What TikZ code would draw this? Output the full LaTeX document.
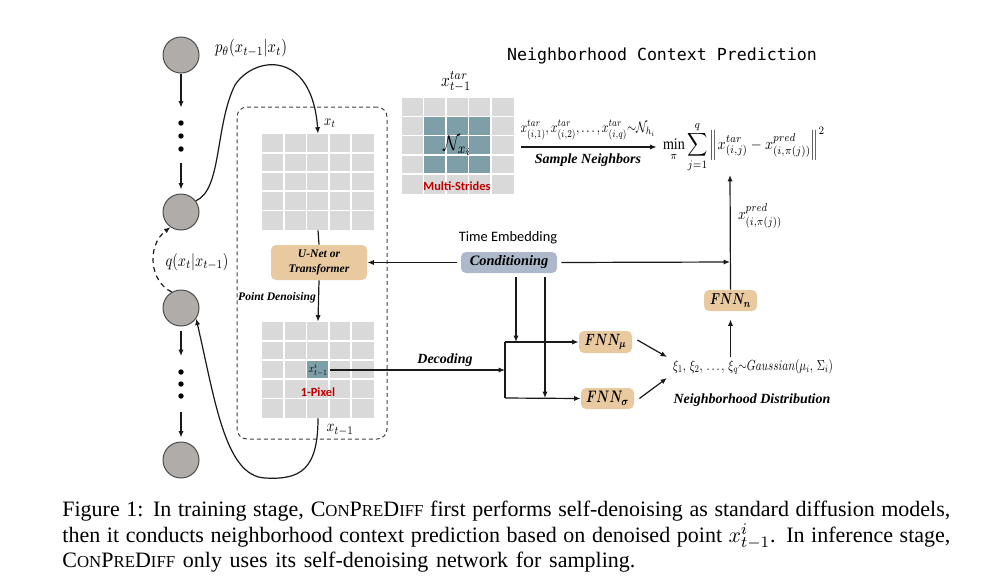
\documentclass[tikz,border=0pt]{standalone}
\usepackage{amsmath,amssymb,bm}
\usepackage{fontspec}
\setmainfont{Liberation Serif}
\newfontfamily\carl{Carlito}
\newfontfamily\monof{DejaVu Sans Mono}
\usetikzlibrary{arrows.meta,calc}
\definecolor{cellgray}{HTML}{D9D9D9}
\definecolor{pixteal}{HTML}{7E9FA8}
\definecolor{tanbox}{HTML}{E9C9A0}
\definecolor{condbox}{HTML}{ADB9CA}
\definecolor{circgray}{HTML}{B0ACAA}
\definecolor{redlab}{HTML}{C00000}
\newcommand{\cpdsc}[1]{{\fontsize{8.4}{9}\selectfont #1}}
\newcommand{\cpd}{C\cpdsc{ON}P\cpdsc{RE}D\cpdsc{IFF}}
\newcommand{\mthv}[3]{\scalebox{1}[#2]{\resizebox{#1}{!}{\fontsize{10}{12}\selectfont$#3$}}}
\newcommand{\mth}[2]{\mthv{#1}{1.2}{#2}}
\tikzset{
  arr/.style={-{Latex[length=3.2pt,width=2.6pt]}, line width=0.6pt, draw=black!90},
  ln/.style={line width=0.6pt, draw=black!90},
  stat/.style={circle, draw=black!70, fill=circgray, minimum size=18pt, inner sep=0pt, line width=0.5pt},
  dotcol/.style={inner sep=0pt, minimum width=2pt, minimum height=27.5pt},
  gridbox/.style={fill=cellgray, inner sep=0pt, minimum width=56pt, minimum height=48pt},
  boxtan/.style={fill=tanbox, rounded corners=2.5pt, inner sep=0pt},
  lbl/.style={font=\bfseries\itshape\fontsize{7}{8}\selectfont},
  sanslbl/.style={font=\carl\bfseries\fontsize{6.2}{7}\selectfont, text=redlab},
  capline/.style={anchor=base west, inner sep=0pt, font=\fontsize{11}{12}\selectfont},
}
\newcommand{\whitegrid}[1]{%
  \foreach \i in {1,...,4} {
    \draw[white, line width=0.8pt] ($(#1.north west)+(\i*22.4,0)$) -- ($(#1.south west)+(\i*22.4,0)$);
    \draw[white, line width=0.8pt] ($(#1.north west)+(0,\i*19.2)$) -- ($(#1.north east)+(0,\i*19.2)$);
  }}
\begin{document}
\begin{tikzpicture}[x=0.5pt, y=-0.5pt, font=\fontsize{7}{8.4}\selectfont]
\useasboundingbox (0,0) rectangle (984,580);

% ---------- left chain ----------
\node[stat] (c1) at (181,55) {};
\node[stat] (c2) at (181,212) {};
\node[stat] (c3) at (181,308) {};
\node[stat] (c4) at (181,460) {};
\node[dotcol] (da) at (181,135.5) {};
\node[dotcol] (db) at (181,384) {};
\foreach \yy in {123,136,149} \fill (181,\yy) circle[radius=1.35pt];
\foreach \yy in {372,384,396} \fill (181,\yy) circle[radius=1.35pt];
\draw[arr] (c1) -- (da);
\draw[arr, shorten >=2pt] (da) -- (c2);
\draw[arr, shorten <=2pt] (c3) -- (db);
\draw[arr, shorten >=2pt] (db) -- (c4);
\draw[arr, dash pattern=on 2.5pt off 2pt] (c3.120) .. controls (150,282) and (146,246) .. (c2.235);
\node[inner sep=0pt] (qlab) at (197,262) {\mth{31.5pt}{q(x_t|x_{t-1})}};

% ---------- denoising frame ----------
\node[draw=black!75, dash pattern=on 2pt off 1.5pt, rounded corners=5pt, line width=0.5pt,
      minimum width=75pt, minimum height=166pt, inner sep=0pt] (frame) at (312,273) {};

\node[gridbox] (gt) at (318,182) {};
\whitegrid{gt}
\node[gridbox] (gb) at (318,370) {};
\node[fill=pixteal, inner sep=0pt, minimum width=11.2pt, minimum height=9.6pt] (pix) at (318,370) {};
\whitegrid{gb}
\node[inner sep=0pt] at (318,370) {\mth{9.5pt}{x^{i}_{t-1}}};
\node[sanslbl] (onepix) at (318,392) {1-Pixel};

\node[inner sep=0pt] (xt) at (330,123) {\mth{5.8pt}{x_t}};
\node[inner sep=0pt] (xt1) at (340,430) {\mth{13.5pt}{x_{t-1}}};

\node[boxtan, minimum width=48pt, minimum height=17.5pt, align=center,
      font=\bfseries\itshape\fontsize{5.8}{7.2}\selectfont] (unet) at (319,262.5) {U-Net or\\Transformer};
\node[font=\bfseries\itshape\fontsize{5.8}{7}\selectfont] (pd) at (277,298) {Point Denoising};

\draw[ln] (gt.south) -- (unet.north);
\draw[arr] (unet.south) -- (gb.north);

% p_theta curve
\node[inner sep=0pt] (plab) at (251,48) {\mth{36pt}{p_\theta(x_{t-1}|x_t)}};
\draw[arr] (c2.37) .. controls (222,190) and (215,125) .. (235,85)
           .. controls (255,55) and (312,50) .. (gt.north);
% return curve
\draw[arr] (gb.south) .. controls (318,470) and (300,480) .. (265,478)
           .. controls (225,476) and (215,400) .. (c3.-35);

% ---------- conditioning ----------
\node[fill=condbox, rounded corners=2.5pt, minimum width=48pt, minimum height=10.5pt, inner sep=0pt,
      font=\bfseries\itshape\fontsize{7.2}{8}\selectfont] (cond) at (509,262.5) {Conditioning};
\node[font=\carl\fontsize{7.2}{8}\selectfont] (te) at (508,238) {Time Embedding};
\draw[arr, shorten <=2pt] (cond.west) -- (unet.east);

\coordinate (vj) at (730,262);
\coordinate (ptop) at (730,175);
\draw[arr, shorten <=2pt] (cond.east) -- (vj);

\node[boxtan, minimum width=26.5pt, minimum height=10.5pt] (fnnn) at (730.5,300.5) {\mthv{20.5pt}{1.35}{\bm{FNN_n}}};
\draw[arr] (fnnn.north) -- (ptop);
\node[inner sep=0pt] (xpred) at (760,216) {\mth{22pt}{x^{pred}_{(i,\pi(j))}}};

\node[boxtan, minimum width=26.5pt, minimum height=11pt] (fnnmu) at (605.5,342) {\mthv{21pt}{1.35}{\bm{FNN_\mu}}};
\node[boxtan, minimum width=26.5pt, minimum height=10.5pt] (fnnsig) at (607.5,398.5) {\mthv{21.5pt}{1.35}{\bm{FNN_\sigma}}};

\coordinate (jm) at (505,342);
\coordinate (js) at (505,398);
\coordinate (jd) at (505,370);
\coordinate (cm1) at (516,342);
\coordinate (cm2) at (545,398);
\draw[arr] (pix.east) -- (jd);
\node[lbl] (dec) at (445,360) {Decoding};
\draw[ln] (jm) -- (js);
\draw[arr] (jm) -- (fnnmu.west);
\draw[arr] (js) -- (fnnsig.west);
\draw[arr, shorten <=2pt] (cond.south -| cm1) -- (cm1);
\draw[arr, shorten <=2pt] (cond.south -| cm2) -- (cm2);

\node[inner sep=1pt] (gauss) at (753,367) {\mthv{80pt}{1.3}{\xi_1,\,\xi_2,\,\ldots,\,\xi_q{\sim}Gaussian(\mu_i,\,\Sigma_i)}};
\node[lbl] (nd) at (752,400) {Neighborhood Distribution};
\coordinate (ga1) at (667,357);
\coordinate (ga2) at (667,378);
\draw[arr] (fnnmu.east) ++(5,-2) -- (ga1);
\draw[arr] (fnnsig.east) ++(5,0) -- (ga2);
\draw[arr, shorten >=4pt] (gauss.north -| fnnn) -- (fnnn.south);

% ---------- neighborhood context ----------
\node[font=\monof\fontsize{8.3}{10}\selectfont] (title) at (662,56) {Neighborhood Context Prediction};
\node[inner sep=0pt] (xtar) at (456,82) {\mth{15pt}{x^{tar}_{t-1}}};
\node[gridbox] (gm) at (457.5,145.5) {};
\fill[pixteal] ($(gm.north west)+(22.4,19.2)$) rectangle ($(gm.north west)+(89.6,76.8)$);
\whitegrid{gm}
\node[inner sep=0pt] (nx) at (457.5,145.5) {\mth{14.5pt}{\mathcal{N}_{x_i}}};
\node[sanslbl] (ms) at (457,186) {Multi-Strides};

\node[inner sep=0pt] (loss) at (744,147) {\mthv{81pt}{1.15}{\displaystyle\min_{\pi}\sum_{j=1}^{q}\left\|x^{tar}_{(i,j)}-x^{pred}_{(i,\pi(j))}\right\|^2}};
\draw[arr, shorten <=3.5pt, shorten >=3pt] (gm.east |- loss) -- (loss.west);
\node[inner sep=0pt] (samp) at (588,130) {\mthv{67.5pt}{1.3}{x^{tar}_{(i,1)},x^{tar}_{(i,2)},\ldots,x^{tar}_{(i,q)}{\sim}\mathcal{N}_{h_i}}};
\node[lbl] (sn) at (588,160) {Sample Neighbors};

% ---------- caption ----------
\node[capline] (cap1) at (62,516) {\makebox[444pt][s]{Figure 1: In training stage, \cpd{} first performs self-denoising as standard diffusion models,}};
\node[capline] (cap2) at (62,542) {\makebox[444pt][s]{then it conducts neighborhood context prediction based on denoised point $x^i_{t-1}$. In inference stage,}};
\node[capline] (cap3) at (62,567) {\makebox[286.5pt][s]{\cpd{} only uses its self-denoising network for sampling.}};
\end{tikzpicture}
\end{document}
